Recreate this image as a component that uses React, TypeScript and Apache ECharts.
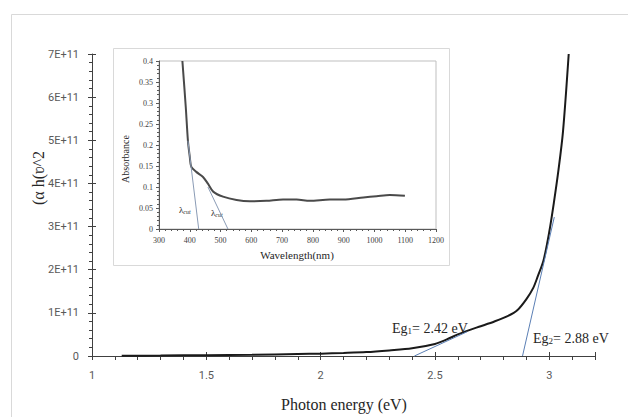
import React, { useEffect, useRef } from 'react';
import * as echarts from 'echarts';

// Main Tauc plot: photon energy (eV) vs (αhν)^2
const energy = [1.13, 1.3, 1.5, 1.7, 1.9, 2.0, 2.1, 2.2, 2.3, 2.4, 2.5, 2.55, 2.6, 2.65, 2.7, 2.76, 2.82, 2.86, 2.9, 2.93, 2.95, 2.975, 3.0, 3.02, 3.04, 3.06, 3.085];
const tauc = [0.005e11, 0.01e11, 0.02e11, 0.03e11, 0.045e11, 0.055e11, 0.07e11, 0.09e11, 0.13e11, 0.18e11, 0.28e11, 0.38e11, 0.5e11, 0.6e11, 0.69e11, 0.8e11, 0.93e11, 1.06e11, 1.32e11, 1.58e11, 1.85e11, 2.22e11, 2.88e11, 3.55e11, 4.3e11, 5.2e11, 7.0e11];

// Tangent (extrapolation) lines on the Tauc plot
const eg1LineX = [2.41, 2.64];
const eg1LineY = [0, 0.56e11];
const eg2LineX = [2.883, 3.022];
const eg2LineY = [0, 3.22e11];

// Inset: absorbance spectrum
const wavelength = [376, 387, 394, 400, 405, 421, 443, 459, 476, 508, 552, 595, 649, 703, 747, 790, 855, 899, 964, 1007, 1050, 1099];
const absorbance = [0.4, 0.29, 0.21, 0.172, 0.148, 0.136, 0.124, 0.108, 0.089, 0.077, 0.069, 0.066, 0.067, 0.07, 0.07, 0.067, 0.07, 0.07, 0.075, 0.078, 0.081, 0.079];
const cut1LineX = [394, 429];
const cut1LineY = [0.21, 0];
const cut2LineX = [459, 524];
const cut2LineY = [0.1, 0];

const zip = (xs: number[], ys: number[]) => xs.map((x, i) => [x, ys[i]]);

const SERIF = "'Liberation Serif', 'Times New Roman', serif";
const SANS = "Roboto, 'Liberation Sans', sans-serif";

export default function App() {
  const ref = useRef<HTMLDivElement>(null);
  useEffect(() => {
    if (!ref.current) return;
    const chart = echarts.init(ref.current, undefined, { renderer: 'svg' });
    const axisColor = '#404040';
    chart.setOption({
      animation: false,
      backgroundColor: '#ffffff',
      grid: [
        { left: 92, right: 33, top: 54, bottom: 61 },
        { left: 159, right: 192, top: 61, bottom: 188, show: true, borderColor: '#bfbfbf', borderWidth: 1, backgroundColor: 'transparent' },
      ],
      xAxis: [
        {
          type: 'value', gridIndex: 0, position: 'bottom', min: 1, max: 3.2, interval: 0.1,
          axisLine: { show: true, lineStyle: { color: axisColor, width: 1 } },
          axisTick: { show: true, length: 4, lineStyle: { color: axisColor } },
          axisLabel: {
            margin: 14, fontFamily: SANS, fontSize: 11, color: '#595959',
            formatter: (v: number) => (Math.abs(v * 2 - Math.round(v * 2)) < 1e-6 ? String(Math.round(v * 10) / 10) : ''),
          },
          splitLine: { show: false },
        },
        {
          type: 'value', gridIndex: 0, position: 'bottom', min: 1, max: 3.2, interval: 0.5,
          axisLine: { show: false },
          axisTick: { show: true, inside: true, length: 4, lineStyle: { color: axisColor } },
          axisLabel: { show: false },
          splitLine: { show: false },
        },
        {
          type: 'value', gridIndex: 1, position: 'bottom', min: 300, max: 1200, interval: 100,
          axisLine: { show: true, lineStyle: { color: '#595959', width: 1 } },
          axisTick: { show: true, length: 3, lineStyle: { color: '#595959' } },
          minorTick: { show: true, splitNumber: 5, length: 2, lineStyle: { color: '#595959' } },
          axisLabel: { margin: 7, fontFamily: SERIF, fontSize: 8, color: '#404040', formatter: (v: number) => String(v) },
          splitLine: { show: false },
        },
      ],
      yAxis: [
        {
          type: 'value', gridIndex: 0, position: 'left', min: 0, max: 7e11, interval: 1e11,
          axisLine: { show: true, lineStyle: { color: axisColor, width: 1 } },
          axisTick: { show: true, length: 4, lineStyle: { color: axisColor } },
          minorTick: { show: true, splitNumber: 5, length: 3, lineStyle: { color: axisColor } },
          axisLabel: {
            margin: 13, fontFamily: SANS, fontSize: 11, color: '#595959',
            formatter: (v: number) => (v === 0 ? '0' : `${Math.round(v / 1e11)}E+11`),
          },
          splitLine: { show: false },
        },
        {
          type: 'value', gridIndex: 0, position: 'left', min: 0, max: 7e11, interval: 1e11,
          axisLine: { show: false },
          axisTick: { show: true, inside: true, length: 4, lineStyle: { color: axisColor } },
          axisLabel: { show: false },
          splitLine: { show: false },
        },
        {
          type: 'value', gridIndex: 1, position: 'left', min: 0, max: 0.4, interval: 0.05,
          axisLine: { show: true, lineStyle: { color: '#595959', width: 1 } },
          axisTick: { show: true, length: 3, lineStyle: { color: '#595959' } },
          minorTick: { show: true, splitNumber: 5, length: 2, lineStyle: { color: '#595959' } },
          axisLabel: {
            margin: 6, fontFamily: SERIF, fontSize: 8, color: '#404040',
            formatter: (v: number) => (v === 0 ? '0' : String(+v.toFixed(2))),
          },
          splitLine: { show: false },
        },
      ],
      series: [
        {
          type: 'line', xAxisIndex: 0, yAxisIndex: 0, data: zip(energy, tauc),
          showSymbol: false, smooth: 0.3, lineStyle: { color: '#1a1a1a', width: 2 }, z: 3,
        },
        {
          type: 'line', xAxisIndex: 0, yAxisIndex: 0, data: zip(eg1LineX, eg1LineY),
          showSymbol: false, lineStyle: { color: '#5b7fb5', width: 1 }, clip: false,
        },
        {
          type: 'line', xAxisIndex: 0, yAxisIndex: 0, data: zip(eg2LineX, eg2LineY),
          showSymbol: false, lineStyle: { color: '#5b7fb5', width: 1 }, clip: false,
        },
        {
          type: 'line', xAxisIndex: 2, yAxisIndex: 2, data: zip(wavelength, absorbance),
          showSymbol: false, smooth: 0.3, lineStyle: { color: '#4a4a4a', width: 2 }, z: 3,
        },
        {
          type: 'line', xAxisIndex: 2, yAxisIndex: 2, data: zip(cut1LineX, cut1LineY),
          showSymbol: false, lineStyle: { color: '#8a9bb5', width: 1 },
        },
        {
          type: 'line', xAxisIndex: 2, yAxisIndex: 2, data: zip(cut2LineX, cut2LineY),
          showSymbol: false, lineStyle: { color: '#8a9bb5', width: 1 },
        },
      ],
      graphic: {
        elements: [
          { type: 'rect', silent: true, shape: { x: 11.5, y: 14.5, width: 700, height: 500 }, style: { fill: 'none', stroke: '#d9d9d9', lineWidth: 1 } },
          { type: 'rect', silent: true, shape: { x: 113.5, y: 48.5, width: 336, height: 217 }, style: { fill: 'none', stroke: '#d9d9d9', lineWidth: 1 } },
          {
            type: 'text', x: 38, y: 178, rotation: Math.PI / 2,
            style: { text: '(α h(ʋ^2', fontFamily: SERIF, fontSize: 16, fill: '#262626', align: 'center', verticalAlign: 'middle' },
          },
          {
            type: 'text', x: 344, y: 404,
            style: { text: 'Photon energy (eV)', fontFamily: SERIF, fontSize: 16, fill: '#262626', align: 'center', verticalAlign: 'middle' },
          },
          {
            type: 'text', x: 297, y: 255,
            style: { text: 'Wavelength(nm)', fontFamily: SERIF, fontSize: 11, fill: '#262626', align: 'center', verticalAlign: 'middle' },
          },
          {
            type: 'text', x: 125, y: 159, rotation: Math.PI / 2,
            style: { text: 'Absorbance', fontFamily: SERIF, fontSize: 10, fill: '#262626', align: 'center', verticalAlign: 'middle' },
          },
          {
            type: 'text', x: 392, y: 328,
            style: {
              text: '{a|Eg}{s|1}{a|= 2.42 eV}', align: 'left', verticalAlign: 'middle',
              rich: {
                a: { fontFamily: SERIF, fontSize: 14, fill: '#262626', verticalAlign: 'bottom' },
                s: { fontFamily: SERIF, fontSize: 9, fill: '#262626', verticalAlign: 'bottom' },
              },
            },
          },
          {
            type: 'text', x: 533, y: 338,
            style: {
              text: '{a|Eg}{s|2}{a|= 2.88 eV}', align: 'left', verticalAlign: 'middle',
              rich: {
                a: { fontFamily: SERIF, fontSize: 14, fill: '#262626', verticalAlign: 'bottom' },
                s: { fontFamily: SERIF, fontSize: 9, fill: '#262626', verticalAlign: 'bottom' },
              },
            },
          },
          {
            type: 'text', x: 179, y: 210,
            style: {
              text: '{l|λ}{c|cut}', align: 'left', verticalAlign: 'middle',
              rich: {
                l: { fontFamily: SERIF, fontSize: 9, fill: '#262626', verticalAlign: 'bottom' },
                c: { fontFamily: SERIF, fontSize: 6, fontStyle: 'italic', fill: '#262626', verticalAlign: 'bottom' },
              },
            },
          },
          {
            type: 'text', x: 211, y: 213,
            style: {
              text: '{l|λ}{c|cut}', align: 'left', verticalAlign: 'middle',
              rich: {
                l: { fontFamily: SERIF, fontSize: 9, fill: '#262626', verticalAlign: 'bottom' },
                c: { fontFamily: SERIF, fontSize: 6, fontStyle: 'italic', fill: '#262626', verticalAlign: 'bottom' },
              },
            },
          },
        ],
      },
    });
    return () => chart.dispose();
  }, []);
  return <div ref={ref} style={{ position: 'fixed', left: 0, top: 0, width: 628, height: 417 }} />;
}
